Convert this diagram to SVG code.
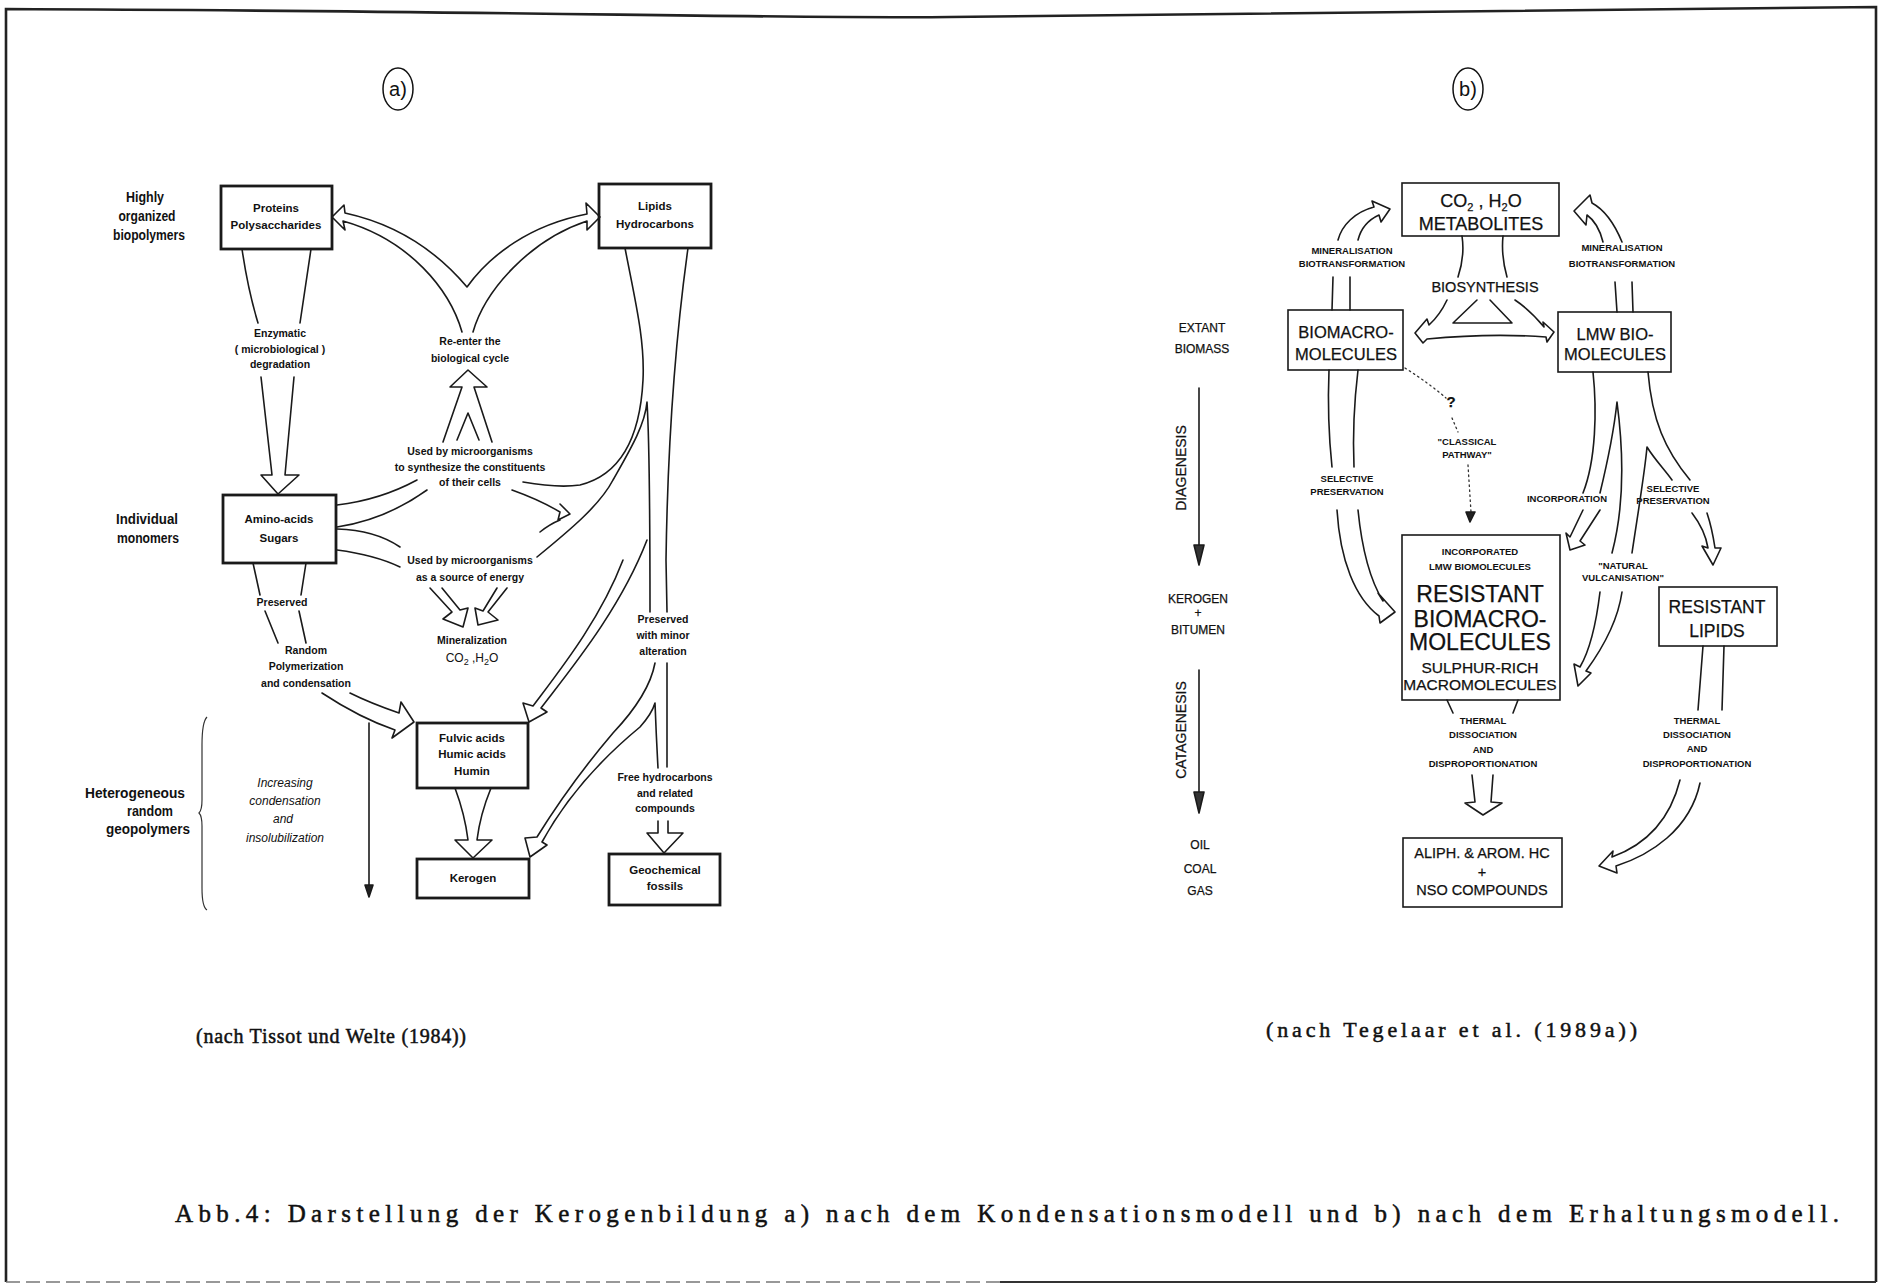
<svg xmlns="http://www.w3.org/2000/svg" width="1882" height="1287" viewBox="0 0 1882 1287">
<defs>
<style>
.bx{fill:#fff;stroke:#1a1a1a;stroke-width:2.8}
.bx2{fill:#fff;stroke:#1a1a1a;stroke-width:1.6}
.ln{fill:none;stroke:#1a1a1a;stroke-width:1.6;stroke-linejoin:round;stroke-linecap:round}
.dot{fill:none;stroke:#333;stroke-width:1.3;stroke-dasharray:1.5 3.5}
.ta{font-family:"Liberation Sans",Arial,sans-serif;font-weight:bold;fill:#111;text-anchor:middle}
.tb{font-family:"Liberation Sans",Arial,sans-serif;fill:#111;text-anchor:middle;stroke:#111;stroke-width:0.25}
.tbs{font-family:"Liberation Sans",Arial,sans-serif;font-weight:bold;fill:#111;text-anchor:middle;font-size:9.5px}
.cap{font-family:"Liberation Serif","Times New Roman",serif;fill:#111;stroke:#111;stroke-width:0.5}
</style>
</defs>
<rect width="1882" height="1287" fill="#fff"/>
<!-- frame -->
<path d="M6,1282 L6,9 C500,11 800,19 950,17 C1300,12 1600,8 1876,7 L1876,1282" fill="none" stroke="#222" stroke-width="2.6"/>
<path d="M6,1282 L1000,1282" fill="none" stroke="#777" stroke-width="1.5" stroke-dasharray="14 6"/>
<path d="M1000,1282 L1876,1282" fill="none" stroke="#333" stroke-width="2"/>

<!-- panel labels -->
<g id="label-a"><ellipse cx="398" cy="89" rx="15" ry="21" fill="none" stroke="#111" stroke-width="1.5"/><text x="398" y="96" class="tb" style="font-size:20px;stroke-width:0">a)</text></g>
<g id="label-b"><ellipse cx="1468" cy="89" rx="15" ry="21" fill="none" stroke="#111" stroke-width="1.5"/><text x="1468" y="96" class="tb" style="font-size:20px;stroke-width:0">b)</text></g>

<!-- ===== Panel a ===== -->
<g id="a-side-labels" class="ta" style="font-size:14px">
<text x="145" y="202" textLength="38" lengthAdjust="spacingAndGlyphs">Highly</text>
<text x="147" y="221" textLength="57" lengthAdjust="spacingAndGlyphs">organized</text>
<text x="149" y="240" textLength="72" lengthAdjust="spacingAndGlyphs">biopolymers</text>
<text x="147" y="524" textLength="62" lengthAdjust="spacingAndGlyphs">Individual</text>
<text x="148" y="543" textLength="62" lengthAdjust="spacingAndGlyphs">monomers</text>
<text x="135" y="798" textLength="100" lengthAdjust="spacingAndGlyphs">Heterogeneous</text>
<text x="150" y="816" textLength="46" lengthAdjust="spacingAndGlyphs">random</text>
<text x="148" y="834" textLength="84" lengthAdjust="spacingAndGlyphs">geopolymers</text>
</g>
<path id="a-brace" d="M207,717 Q202,722 202,745 L202,800 Q202,810 199,813 Q202,816 202,826 L202,888 Q202,907 207,910" fill="none" stroke="#333" stroke-width="1.2"/>
<g id="a-increasing" style="font-family:'Liberation Sans',Arial,sans-serif;font-style:italic;font-size:12px;fill:#111;text-anchor:middle">
<text x="285" y="787">Increasing</text>
<text x="285" y="805">condensation</text>
<text x="283" y="823">and</text>
<text x="285" y="842">insolubilization</text>
</g>

<g id="a-proteins"><rect class="bx" x="221" y="186" width="111" height="63"/>
<text class="ta" x="276" y="212" style="font-size:11.5px">Proteins</text>
<text class="ta" x="276" y="229" style="font-size:11.5px">Polysaccharides</text></g>
<g id="a-lipids"><rect class="bx" x="599" y="184" width="112" height="64"/>
<text class="ta" x="655" y="210" style="font-size:11.5px">Lipids</text>
<text class="ta" x="655" y="228" style="font-size:11.5px">Hydrocarbons</text></g>
<g id="a-amino"><rect class="bx" x="223" y="495" width="113" height="68"/>
<text class="ta" x="279" y="523" style="font-size:11.5px">Amino-acids</text>
<text class="ta" x="279" y="542" style="font-size:11.5px">Sugars</text></g>
<g id="a-fulvic"><rect class="bx" x="417" y="723" width="111" height="65"/>
<text class="ta" x="472" y="742" style="font-size:11.5px">Fulvic acids</text>
<text class="ta" x="472" y="758" style="font-size:11.5px">Humic acids</text>
<text class="ta" x="472" y="775" style="font-size:11.5px">Humin</text></g>
<g id="a-kerogen"><rect class="bx" x="417" y="859" width="112" height="39"/>
<text class="ta" x="473" y="882" style="font-size:11.5px">Kerogen</text></g>
<g id="a-geofossils"><rect class="bx" x="609" y="854" width="111" height="51"/>
<text class="ta" x="665" y="874" style="font-size:11.5px">Geochemical</text>
<text class="ta" x="665" y="890" style="font-size:11.5px">fossils</text></g>

<g id="a-labels" class="ta" style="font-size:10.5px">
<text x="280" y="337">Enzymatic</text>
<text x="280" y="353">( microbiological )</text>
<text x="280" y="368">degradation</text>
<text x="470" y="345">Re-enter the</text>
<text x="470" y="362">biological cycle</text>
<text x="470" y="455">Used by microorganisms</text>
<text x="470" y="471">to synthesize the constituents</text>
<text x="470" y="486">of their cells</text>
<text x="470" y="564">Used by microorganisms</text>
<text x="470" y="581">as a source of energy</text>
<text x="472" y="644">Mineralization</text>
<text x="472" y="662" style="font-size:12px;font-weight:normal">CO<tspan dy="3" style="font-size:9px">2</tspan><tspan dy="-3"> ,H</tspan><tspan dy="3" style="font-size:9px">2</tspan><tspan dy="-3">O</tspan></text>
<text x="282" y="606">Preserved</text>
<text x="306" y="654">Random</text>
<text x="306" y="670">Polymerization</text>
<text x="306" y="687">and condensation</text>
<text x="663" y="623">Preserved</text>
<text x="663" y="639">with minor</text>
<text x="663" y="655">alteration</text>
<text x="665" y="781">Free hydrocarbons</text>
<text x="665" y="797">and related</text>
<text x="665" y="812">compounds</text>
</g>

<g id="a-connectors" class="ln">
<path d="M242,249 Q248,290 258,323"/><path d="M311,249 Q305,290 300,323"/>
<path d="M261,377 L272,475 L261,475 L278,494 L299,475 L285,475 L294,377"/>
<path d="M462,332 C450,290 410,240 343,221 L345,230 L332,217 L344,205 L345,213 C400,225 440,255 467,287 C490,255 530,225 587,214 L586,203 L600,217 L587,230 L587,221 C530,240 485,290 473,332"/>
<path d="M443,442 L462,387 L450,387 L468,370 L487,387 L474,387 L492,442"/>
<path d="M457,440 L468,413 L479,440"/>
<path d="M337,505 Q380,500 417,480"/>
<path d="M337,527 Q385,520 427,490"/>
<path d="M337,529 Q375,530 400,547"/>
<path d="M337,550 Q375,555 400,567"/>
<path d="M625,248 C635,300 645,340 643,380 C640,440 620,475 580,485 C560,488 540,485 523,482"/>
<path d="M688,248 C678,320 668,420 666,560 L667,612"/>
<path d="M512,490 Q540,500 560,512 L558,520 L570,514 L560,504"/>
<path d="M537,557 C570,530 600,505 613,480 C630,450 645,425 647,402 C650,450 650,530 650,612"/>
<path d="M540,532 Q550,524 560,520"/>
<path d="M623,560 C600,620 560,670 533,706 L523,703 L529,722 L547,712 L541,708 C570,670 620,610 647,540"/>
<path d="M430,588 L452,612 L443,619 L463,627 L468,608 L460,610 L442,588"/>
<path d="M507,588 L488,612 L498,620 L478,625 L475,608 L483,611 L497,588"/>
<path d="M253,563 L260,595"/><path d="M306,563 L301,595"/>
<path d="M265,611 L278,643"/><path d="M299,611 L306,643"/>
<path d="M322,693 Q360,718 395,730 L392,738 L414,722 L401,702 L399,713 Q370,703 350,693"/>
<path d="M455,788 Q465,815 468,840 L455,840 L473,858 L492,840 L477,840 Q480,815 491,788"/>
<path d="M655,663 C650,690 630,715 613,733 C590,760 560,800 537,837 L525,838 L530,857 L547,845 L542,842 C565,800 600,760 640,727 C648,718 653,710 655,703 C656,730 657,750 658,768"/>
<path d="M667,663 L667,767"/>
<path d="M658,821 L658,833 L647,833 L664,853 L683,833 L668,833 L668,821"/>
<path d="M369,723 L369,895"/>
<path d="M365,885 L369,897 L373,885 Z" fill="#222"/>
</g>

<!-- ===== Panel b ===== -->
<g id="b-side" class="tb" style="font-size:12px">
<text x="1202" y="332">EXTANT</text>
<text x="1202" y="353">BIOMASS</text>
<text x="1198" y="603">KEROGEN</text>
<text x="1198" y="617">+</text>
<text x="1198" y="634">BITUMEN</text>
<text x="1200" y="849">OIL</text>
<text x="1200" y="873">COAL</text>
<text x="1200" y="895">GAS</text>
<text transform="translate(1186,468) rotate(-90)" style="font-size:14px">DIAGENESIS</text>
<text transform="translate(1186,730) rotate(-90)" style="font-size:14px">CATAGENESIS</text>
</g>
<g id="b-side-arrows" class="ln">
<path d="M1199,388 L1199,563"/><path d="M1194,545 L1199,565 L1204,545 Z" fill="#333"/>
<path d="M1199,670 L1199,811"/><path d="M1194,792 L1199,813 L1204,792 Z" fill="#333"/>
</g>

<g id="b-co2"><rect class="bx2" x="1402" y="183" width="157" height="53"/>
<text class="tb" x="1481" y="207" style="font-size:18px">CO<tspan dy="4" style="font-size:11px">2</tspan><tspan dy="-4"> , H</tspan><tspan dy="4" style="font-size:11px">2</tspan><tspan dy="-4">O</tspan></text>
<text class="tb" x="1481" y="230" style="font-size:18px">METABOLITES</text></g>
<g id="b-biomacro"><rect class="bx2" x="1288" y="310" width="115" height="60"/>
<text class="tb" x="1346" y="338" style="font-size:16.5px">BIOMACRO-</text>
<text class="tb" x="1346" y="360" style="font-size:16.5px">MOLECULES</text></g>
<g id="b-lmw"><rect class="bx2" x="1558" y="312" width="113" height="60"/>
<text class="tb" x="1615" y="340" style="font-size:16.5px">LMW BIO-</text>
<text class="tb" x="1615" y="360" style="font-size:16.5px">MOLECULES</text></g>
<g id="b-resistant"><rect class="bx2" x="1402" y="535" width="158" height="165"/>
<text class="tbs" x="1480" y="555">INCORPORATED</text>
<text class="tbs" x="1480" y="570">LMW BIOMOLECULES</text>
<text class="tb" x="1480" y="602" style="font-size:23px">RESISTANT</text>
<text class="tb" x="1480" y="627" style="font-size:23px">BIOMACRO-</text>
<text class="tb" x="1480" y="650" style="font-size:23px">MOLECULES</text>
<text class="tb" x="1480" y="673" style="font-size:15.5px">SULPHUR-RICH</text>
<text class="tb" x="1480" y="690" style="font-size:15.5px">MACROMOLECULES</text></g>
<g id="b-reslipids"><rect class="bx2" x="1659" y="587" width="118" height="59"/>
<text class="tb" x="1717" y="613" style="font-size:17.5px">RESISTANT</text>
<text class="tb" x="1717" y="637" style="font-size:17.5px">LIPIDS</text></g>
<g id="b-aliph"><rect class="bx2" x="1403" y="838" width="159" height="69"/>
<text class="tb" x="1482" y="858" style="font-size:14.5px">ALIPH. &amp; AROM. HC</text>
<text class="tb" x="1482" y="877" style="font-size:14.5px">+</text>
<text class="tb" x="1482" y="895" style="font-size:14.5px">NSO COMPOUNDS</text></g>

<g id="b-labels">
<text class="tbs" x="1352" y="254">MINERALISATION</text>
<text class="tbs" x="1352" y="267">BIOTRANSFORMATION</text>
<text class="tbs" x="1622" y="251">MINERALISATION</text>
<text class="tbs" x="1622" y="267">BIOTRANSFORMATION</text>
<text class="tb" x="1485" y="292" style="font-size:14.5px">BIOSYNTHESIS</text>
<text class="tb" x="1451" y="407" style="font-size:15px;font-weight:bold">?</text>
<text class="tbs" x="1467" y="445">"CLASSICAL</text>
<text class="tbs" x="1467" y="458">PATHWAY"</text>
<text class="tbs" x="1347" y="482">SELECTIVE</text>
<text class="tbs" x="1347" y="495">PRESERVATION</text>
<text class="tbs" x="1567" y="502">INCORPORATION</text>
<text class="tbs" x="1673" y="492">SELECTIVE</text>
<text class="tbs" x="1673" y="504">PRESERVATION</text>
<text class="tbs" x="1623" y="569">"NATURAL</text>
<text class="tbs" x="1623" y="581">VULCANISATION"</text>
<text class="tbs" x="1483" y="724">THERMAL</text>
<text class="tbs" x="1483" y="738">DISSOCIATION</text>
<text class="tbs" x="1483" y="753">AND</text>
<text class="tbs" x="1483" y="767">DISPROPORTIONATION</text>
<text class="tbs" x="1697" y="724">THERMAL</text>
<text class="tbs" x="1697" y="738">DISSOCIATION</text>
<text class="tbs" x="1697" y="752">AND</text>
<text class="tbs" x="1697" y="767">DISPROPORTIONATION</text>
</g>

<g id="b-connectors" class="ln">
<path d="M1332,310 L1333,277"/><path d="M1350,310 L1350,277"/>
<path d="M1338,240 C1342,225 1355,212 1374,207 L1372,201 L1390,209 L1381,222 L1379,215 C1368,220 1361,228 1358,240"/>
<path d="M1617,312 L1615,282"/><path d="M1633,312 L1632,282"/>
<path d="M1622,242 C1615,225 1605,210 1592,203 L1590,195 L1574,211 L1586,225 L1587,215 C1594,220 1600,230 1603,242"/>
<path d="M1462,236 Q1465,256 1458,277"/><path d="M1503,236 Q1501,256 1507,277"/>
<path d="M1447,300 Q1440,315 1429,325 L1427,319 L1415,333 L1423,343 L1427,339 Q1490,333 1546,337 L1547,342 L1554,332 L1543,322 L1544,327 Q1530,310 1515,300"/>
<path d="M1477,300 L1453,323 L1512,323 L1490,300"/>
<path d="M1329,370 Q1327,420 1332,467"/><path d="M1358,370 Q1352,420 1354,467"/>
<path d="M1337,510 C1340,560 1355,598 1379,616 L1380,623 L1395,612 L1378,593 L1383,601 C1370,580 1362,550 1358,510"/>
<path class="dot" d="M1405,368 Q1430,384 1446,398"/>
<path class="dot" d="M1452,418 L1458,432"/>
<path class="dot" d="M1468,465 L1471,512"/>
<path d="M1466,512 L1470,522 L1475,512 Z" fill="#222"/>
<path d="M1593,372 C1597,410 1596,460 1583,493"/>
<path d="M1600,493 C1608,460 1614,430 1617,402 C1622,440 1626,500 1612,553"/>
<path d="M1583,510 L1570,537 L1566,533 L1570,550 L1585,545 L1580,541 L1600,510"/>
<path d="M1632,553 C1640,500 1645,470 1647,447 C1655,460 1665,470 1672,480"/>
<path d="M1648,372 C1652,420 1665,450 1690,480"/>
<path d="M1692,513 Q1705,530 1708,548 L1702,546 L1713,565 L1721,548 L1715,548 Q1712,528 1707,513"/>
<path d="M1600,592 C1596,625 1590,650 1580,667 L1574,664 L1578,686 L1591,673 L1586,671 C1605,645 1618,620 1622,592"/>
<path d="M1447,700 L1453,713"/><path d="M1518,700 L1513,713"/>
<path d="M1472,775 L1475,802 L1465,803 L1483,815 L1502,803 L1491,802 L1493,775"/>
<path d="M1703,646 L1698,710"/><path d="M1724,646 L1722,710"/>
<path d="M1680,780 C1670,820 1645,845 1612,857 L1613,851 L1599,866 L1617,873 L1616,866 C1650,855 1690,830 1700,783"/>
</g>

<!-- captions -->
<text class="cap" x="196" y="1043" style="font-size:20px" textLength="270" lengthAdjust="spacing">(nach Tissot und Welte (1984))</text>
<text class="cap" x="1266" y="1037" style="font-size:22px" textLength="371" lengthAdjust="spacing">(nach Tegelaar et al. (1989a))</text>
<text class="cap" x="175" y="1222" style="font-size:25px" textLength="1664" lengthAdjust="spacing">Abb.4: Darstellung der Kerogenbildung a) nach dem Kondensationsmodell und b) nach dem Erhaltungsmodell.</text>
</svg>
